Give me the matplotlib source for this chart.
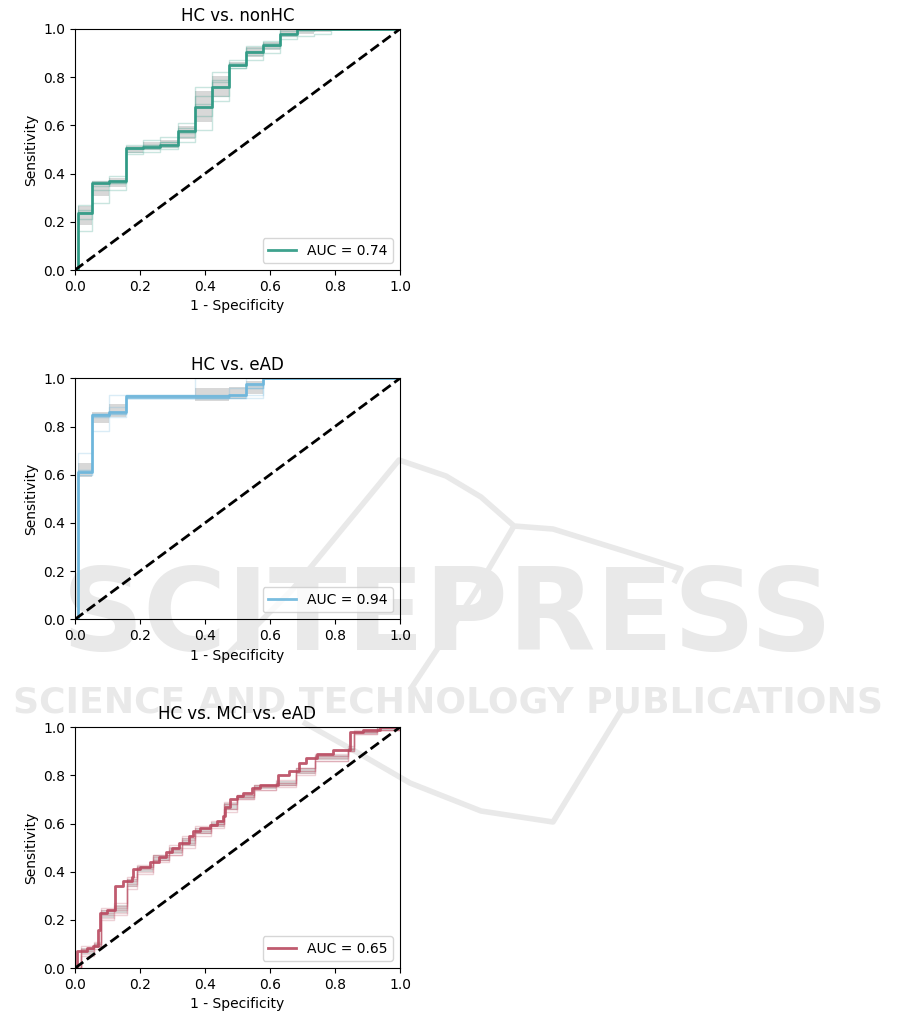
import numpy as np
import matplotlib.pyplot as plt
from matplotlib.lines import Line2D

titles = ["HC vs. nonHC", "HC vs. eAD", "HC vs. MCI vs. eAD"]
auc_values = [0.74, 0.94, 0.65]
colors = ["#2a9882", "#6cb6dc", "#b9495f"]

# HC vs. nonHC
fpr_1 = [0.0, 0.01, 0.053, 0.105, 0.158, 0.21, 0.263, 0.316, 0.368, 0.421,
         0.474, 0.526, 0.579, 0.632, 0.684, 0.737, 0.789, 1.0]
mean_tpr_1 = [0.0, 0.235, 0.36, 0.37, 0.505, 0.51, 0.52, 0.575, 0.675, 0.76,
              0.85, 0.905, 0.935, 0.98, 1.0, 1.0, 1.0, 1.0]
fold_tprs_1 = [
    [0.0, 0.27, 0.37, 0.39, 0.52, 0.54, 0.55, 0.61, 0.76, 0.82, 0.87, 0.93, 0.95, 1.0, 1.0, 1.0, 1.0, 1.0],
    [0.0, 0.16, 0.28, 0.33, 0.48, 0.49, 0.50, 0.53, 0.58, 0.70, 0.84, 0.87, 0.90, 0.96, 0.97, 0.98, 1.0, 1.0],
    [0.0, 0.24, 0.35, 0.36, 0.50, 0.52, 0.53, 0.57, 0.72, 0.78, 0.86, 0.91, 0.93, 0.98, 1.0, 1.0, 1.0, 1.0],
    [0.0, 0.21, 0.33, 0.36, 0.49, 0.50, 0.51, 0.55, 0.64, 0.72, 0.84, 0.89, 0.92, 0.97, 0.99, 1.0, 1.0, 1.0],
    [0.0, 0.25, 0.36, 0.37, 0.51, 0.52, 0.53, 0.59, 0.69, 0.79, 0.85, 0.92, 0.94, 0.99, 1.0, 1.0, 1.0, 1.0],
]

# HC vs. eAD
fpr_2 = [0.0, 0.01, 0.053, 0.105, 0.158, 0.368, 0.474, 0.526, 0.579, 1.0]
mean_tpr_2 = [0.0, 0.613, 0.848, 0.862, 0.925, 0.925, 0.932, 0.975, 1.0, 1.0]
fold_tprs_2 = [
    [0.0, 0.69, 0.78, 0.93, 0.93, 1.0, 1.0, 1.0, 1.0, 1.0],
    [0.0, 0.62, 0.85, 0.85, 0.92, 0.92, 0.92, 0.92, 1.0, 1.0],
    [0.0, 0.61, 0.85, 0.88, 0.92, 0.92, 0.92, 0.96, 1.0, 1.0],
    [0.0, 0.62, 0.85, 0.85, 0.92, 0.92, 0.96, 1.0, 1.0, 1.0],
    [0.0, 0.60, 0.84, 0.84, 0.93, 0.93, 0.93, 0.93, 1.0, 1.0],
    [0.0, 0.61, 0.85, 0.86, 0.92, 0.92, 0.93, 0.97, 1.0, 1.0],
    [0.0, 0.60, 0.85, 0.85, 0.93, 0.93, 0.93, 0.96, 1.0, 1.0],
    [0.0, 0.61, 0.84, 0.86, 0.92, 0.92, 0.92, 0.96, 1.0, 1.0],
]

# HC vs. MCI vs. eAD
fpr_3 = [0.0, 0.005, 0.036, 0.054, 0.072, 0.077, 0.10, 0.123, 0.149, 0.174,
         0.18, 0.20, 0.23, 0.26, 0.28, 0.30, 0.32, 0.35, 0.364, 0.385,
         0.415, 0.436, 0.456, 0.462, 0.477, 0.50, 0.518, 0.544, 0.57, 0.626,
         0.66, 0.69, 0.71, 0.745, 0.795, 0.845, 0.887, 0.94, 1.0]
mean_tpr_3 = [0.0, 0.07, 0.083, 0.09, 0.16, 0.23, 0.24, 0.34, 0.36, 0.38,
              0.41, 0.42, 0.44, 0.46, 0.48, 0.50, 0.52, 0.55, 0.57, 0.58,
              0.595, 0.61, 0.63, 0.67, 0.70, 0.713, 0.727, 0.748, 0.76, 0.80,
              0.82, 0.85, 0.87, 0.89, 0.905, 0.98, 0.99, 1.0, 1.0]
fold_fpr_3 = [0.0, 0.02, 0.06, 0.08, 0.12, 0.16, 0.19, 0.24, 0.29, 0.33, 0.37,
              0.42, 0.46, 0.50, 0.55, 0.62, 0.68, 0.74, 0.84, 0.86, 0.93, 1.0]
fold_tprs_3 = [
    [0.0, 0.09, 0.11, 0.25, 0.27, 0.38, 0.43, 0.47, 0.51, 0.55, 0.59, 0.61, 0.69, 0.72, 0.76, 0.78, 0.83, 0.89, 0.92, 0.99, 1.0, 1.0],
    [0.0, 0.05, 0.08, 0.20, 0.22, 0.33, 0.39, 0.44, 0.47, 0.50, 0.55, 0.58, 0.65, 0.70, 0.74, 0.75, 0.81, 0.86, 0.90, 0.97, 0.99, 1.0],
    [0.0, 0.07, 0.10, 0.22, 0.25, 0.35, 0.42, 0.45, 0.49, 0.53, 0.56, 0.60, 0.66, 0.71, 0.75, 0.77, 0.82, 0.88, 0.91, 0.98, 0.99, 1.0],
    [0.0, 0.08, 0.09, 0.24, 0.24, 0.37, 0.40, 0.47, 0.48, 0.51, 0.58, 0.59, 0.68, 0.70, 0.75, 0.76, 0.80, 0.87, 0.90, 0.97, 1.0, 1.0],
    [0.0, 0.06, 0.09, 0.21, 0.23, 0.34, 0.41, 0.45, 0.47, 0.52, 0.56, 0.60, 0.66, 0.72, 0.74, 0.77, 0.83, 0.86, 0.91, 0.98, 0.99, 1.0],
    [0.0, 0.08, 0.10, 0.23, 0.26, 0.36, 0.42, 0.46, 0.50, 0.54, 0.57, 0.60, 0.68, 0.71, 0.76, 0.76, 0.82, 0.88, 0.90, 0.98, 0.99, 1.0],
]

panels = [
    (fpr_1, mean_tpr_1, fpr_1, fold_tprs_1),
    (fpr_2, mean_tpr_2, fpr_2, fold_tprs_2),
    (fpr_3, mean_tpr_3, fold_fpr_3, fold_tprs_3),
]

fig = plt.figure(figsize=(9.01, 10.17), dpi=100)

# publisher watermark, behind the (transparent) axes
wm = "#e9e9e9"
fig.text(0.497, 0.392, "SCITEPRESS", fontsize=82, fontweight="bold", color=wm,
         ha="center", va="center", zorder=-5)
fig.text(0.497, 0.309, "SCIENCE AND TECHNOLOGY PUBLICATIONS", fontsize=26,
         fontweight="bold", color=wm, ha="center", va="center", zorder=-5)
logo = [
    [(221, 661), (292, 590), (399, 460), (446, 476), (481, 497), (514, 526),
     (553, 529), (624, 551), (681, 569), (674, 583)],
    [(514, 526), (474, 594), (410, 690)],
    [(303, 722), (360, 754), (410, 783), (481, 811), (553, 822), (621, 711)],
]
for pts in logo:
    xs = [p[0] / 901 for p in pts]
    ys = [1 - p[1] / 1017 for p in pts]
    fig.add_artist(Line2D(xs, ys, transform=fig.transFigure, color=wm, lw=4,
                          solid_capstyle="butt", zorder=-5))

bottoms = [0.7345, 0.391, 0.048]
for i, (mean_fpr, mean_tpr, fold_fpr, folds) in enumerate(panels):
    ax = fig.add_axes([0.0832, bottoms[i], 0.3607, 0.237])
    ax.set_facecolor("none")
    c = colors[i]

    for tpr in folds:
        ax.step(fold_fpr, tpr, where="post", color=c, lw=1, alpha=0.25)

    folds_arr = np.array(folds)
    mu = folds_arr.mean(axis=0)
    sd = folds_arr.std(axis=0)
    ax.fill_between(fold_fpr, np.maximum(mu - sd, 0), np.minimum(mu + sd, 1),
                    step="post", color="grey", alpha=0.3, lw=0)

    ax.step(mean_fpr, mean_tpr, where="post", color=c, lw=2, alpha=0.9,
            label="AUC = %.2f" % auc_values[i])
    ax.plot([0, 1], [0, 1], "k--", lw=2)

    ax.set_xlim(0, 1)
    ax.set_ylim(0, 1)
    ax.set_title(titles[i])
    ax.set_xlabel("1 - Specificity")
    ax.set_ylabel("Sensitivity")
    ax.legend(loc="lower right")

fig.savefig("out.png", dpi=100)
